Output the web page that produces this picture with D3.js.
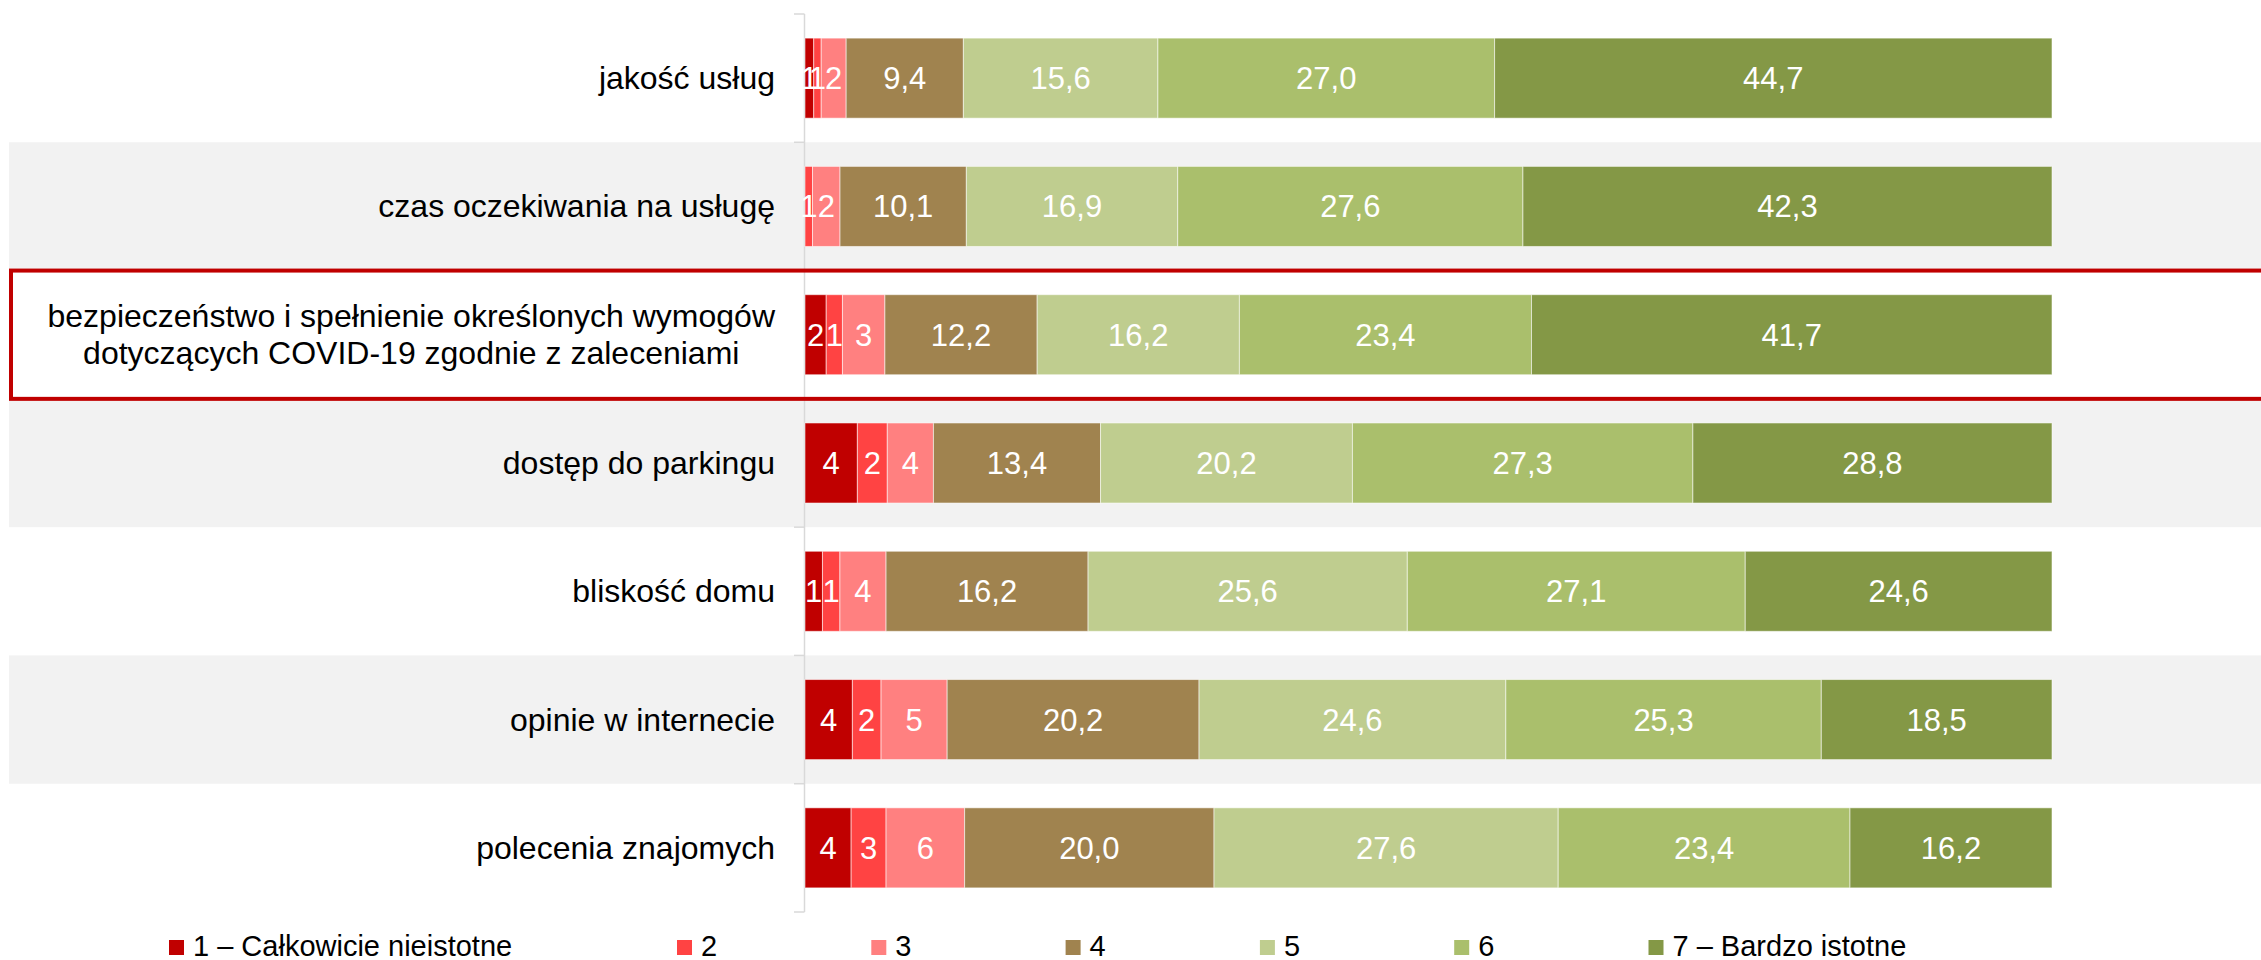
<!DOCTYPE html>
<html>
<head>
<meta charset="utf-8">
<script src="https://cdn.jsdelivr.net/npm/d3@7"></script>
<style>
  body { margin: 0; background: #fff; }
  text { font-family: "Liberation Sans", Arial, sans-serif; }
</style>
</head>
<body>
<div id="chart"></div>
<script>
// data
var categories = [
  "jakość usług",
  "czas oczekiwania na usługę",
  "bezpieczeństwo i spełnienie określonych wymogów\ndotyczących COVID-19 zgodnie z zaleceniami",
  "dostęp do parkingu",
  "bliskość domu",
  "opinie w internecie",
  "polecenia znajomych"
];
var seriesNames = ["1 – Całkowicie nieistotne", "2", "3", "4", "5", "6", "7 – Bardzo istotne"];
var s1 = [0.7, 0.0, 1.7, 4.2, 1.4, 3.8, 3.7];
var s2 = [0.6, 0.6, 1.3, 2.4, 1.4, 2.3, 2.8];
var s3 = [2.0, 2.2, 3.4, 3.7, 3.7, 5.3, 6.3];
var s4 = [9.4, 10.1, 12.2, 13.4, 16.2, 20.2, 20.0];
var s5 = [15.6, 16.9, 16.2, 20.2, 25.6, 24.6, 27.6];
var s6 = [27.0, 27.6, 23.4, 27.3, 27.1, 25.3, 23.4];
var s7 = [44.7, 42.3, 41.7, 28.8, 24.6, 18.5, 16.2];
var colors = ["#c00000", "#ff4343", "#ff8080", "#a0834f", "#bfcd8f", "#aabf6c", "#849846"];
var highlighted = 2; // row in red frame

var width = 2261;
var height = 960;
var plotLeft = 805, plotRight = 2052;
var plotTop = 14, plotBottom = 912;
var fontSize = 32;

var series = [s1, s2, s3, s4, s5, s6, s7];

// 100% stacked rows
var rows = categories.map(function(c, i) {
  var vals = series.map(function(s) { return s[i]; });
  var total = d3.sum(vals);
  var acc = 0;
  var segs = vals.map(function(v, k) {
    var seg = {k: k, v: v, row: i, x0: acc / total, x1: (acc + v) / total};
    acc += v;
    return seg;
  });
  return {name: c, idx: i, segs: segs};
});

var svg = d3.select("#chart")
  .append("svg")
  .attr("width", width)
  .attr("height", height);

var x = d3.scaleLinear().domain([0, 1]).range([plotLeft, plotRight]);
var y = d3.scaleBand()
  .domain(d3.range(categories.length))
  .range([plotTop, plotBottom])
  .paddingInner(0.376)
  .paddingOuter(0.188);

var step = y.step();
var bandTop = function(i) { return y(i) - y.paddingInner() * step / 2; };

// alternating grey rows
svg.selectAll(".band")
  .data(rows.filter(function(d) { return d.idx % 2 == 1; }))
  .enter()
  .append("rect")
  .attr("class", "band")
  .attr("x", 9)
  .attr("y", function(d) { return bandTop(d.idx); })
  .attr("width", width - 9)
  .attr("height", step)
  .attr("fill", "#f2f2f2");

// axis line with ticks on band boundaries
var ax = svg.append("g").attr("stroke", "#d9d9d9").attr("stroke-width", 1.5);
ax.append("line")
  .attr("x1", plotLeft - 0.5).attr("x2", plotLeft - 0.5)
  .attr("y1", plotTop).attr("y2", plotBottom);
ax.selectAll(".tick")
  .data(d3.range(categories.length + 1))
  .enter()
  .append("line")
  .attr("x1", plotLeft - 11).attr("x2", plotLeft - 0.5)
  .attr("y1", function(d) { return plotTop + d * step; })
  .attr("y2", function(d) { return plotTop + d * step; });

// bars
var fmt = d3.formatLocale({decimal: ",", thousands: " ", grouping: [3], currency: ["", ""]});
var f0 = fmt.format(".0f"), f1 = fmt.format(".1f");

var rowG = svg.selectAll(".row")
  .data(rows)
  .enter()
  .append("g")
  .attr("class", "row");

rowG.selectAll("rect")
  .data(function(d) { return d.segs.filter(function(s) { return s.v > 0; }); })
  .enter()
  .append("rect")
  .attr("x", function(d) { return x(d.x0); })
  .attr("y", function(d) { return y(d.row); })
  .attr("width", function(d) { return x(d.x1) - x(d.x0); })
  .attr("height", y.bandwidth())
  .attr("fill", function(d) { return colors[d.k]; })
  .attr("stroke", "rgba(255,255,255,0.55)")
  .attr("stroke-width", 1);

rowG.selectAll("text")
  .data(function(d) { return d.segs.filter(function(s) { return s.v > 0; }); })
  .enter()
  .append("text")
  .attr("x", function(d) { return (x(d.x0) + x(d.x1)) / 2; })
  .attr("y", function(d) { return y(d.row) + y.bandwidth() / 2 + 11; })
  .attr("text-anchor", "middle")
  .attr("fill", "#fff")
  .style("font-size", "31px")
  .text(function(d) { return d.v < 8 ? f0(d.v) : f1(d.v); });

// category labels (multi-line ones centred within a right aligned block)
var labelRight = 775;
rows.forEach(function(r) {
  var lines = r.name.split("\n");
  var cy = y(r.idx) + y.bandwidth() / 2;
  var t = svg.append("text")
    .attr("fill", "#000")
    .style("font-size", fontSize + "px");
  var spans = t.selectAll("tspan")
    .data(lines)
    .enter()
    .append("tspan")
    .attr("y", function(d, i) { return cy + 11 + (i - (lines.length - 1) / 2) * 37; })
    .text(function(d) { return d; });
  if (lines.length > 1) {
    var w = d3.max(spans.nodes(), function(n) { return n.getComputedTextLength(); });
    spans.attr("x", labelRight - w / 2).attr("text-anchor", "middle");
  } else {
    spans.attr("x", labelRight).attr("text-anchor", "end");
  }
});

// red frame around highlighted row
svg.append("rect")
  .attr("x", 11)
  .attr("y", bandTop(highlighted))
  .attr("width", width + 20)
  .attr("height", step)
  .attr("fill", "none")
  .attr("stroke", "#c00000")
  .attr("stroke-width", 4);

// legend
var legend = svg.selectAll(".legend")
  .data(seriesNames)
  .enter()
  .append("g")
  .attr("class", "legend")
  .attr("transform", function(d, i) {
    var lx = i == 0 ? 169 : 677 + (i - 1) * 194.3;
    return "translate(" + lx + ",940)";
  });
legend.append("rect")
  .attr("width", 15).attr("height", 15)
  .attr("fill", function(d, i) { return colors[i]; });
legend.append("text")
  .attr("x", 24).attr("y", 16)
  .style("font-size", "29px")
  .attr("fill", "#000")
  .text(function(d) { return d; });
</script>
</body>
</html>
